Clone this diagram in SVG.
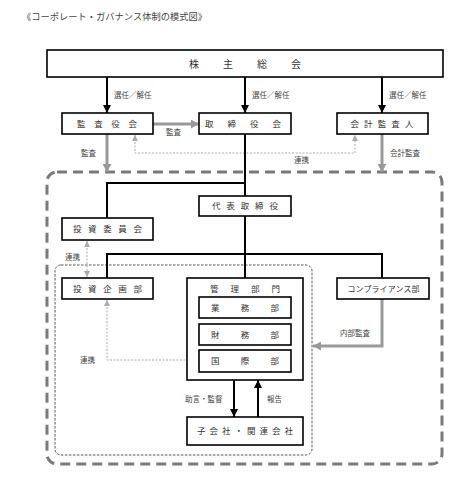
<svg xmlns="http://www.w3.org/2000/svg" width="472" height="484" viewBox="0 0 472 484">
<defs>
<style>
text{font-family:"Noto Sans CJK JP","Noto Sans CJK SC",sans-serif;fill:#333;}
.bl{font-size:8.5px;text-anchor:middle;}
.lb{font-size:7.5px;fill:#444;}
.box{fill:#fff;stroke:#000;stroke-width:1.6;}
.ln{fill:none;stroke:#000;stroke-width:2;}
.ga{fill:none;stroke:#999;stroke-width:3;}
.dt{fill:none;stroke:#aaa;stroke-width:1;stroke-dasharray:2,1.5;}
</style>
<marker id="mb" viewBox="0 0 8 8" refX="8" refY="4" markerWidth="8" markerHeight="8" markerUnits="userSpaceOnUse" orient="auto"><path d="M0,0L8,4L0,8z" fill="#000"/></marker>
<marker id="mg" viewBox="0 0 8 9" refX="8" refY="4.5" markerWidth="8" markerHeight="9" markerUnits="userSpaceOnUse" orient="auto"><path d="M0,0L8,4.5L0,9z" fill="#999"/></marker>
<marker id="md" viewBox="0 0 6 6" refX="6" refY="3" markerWidth="6" markerHeight="6" markerUnits="userSpaceOnUse" orient="auto-start-reverse"><path d="M0,0L6,3L0,6z" fill="#aaa"/></marker>
</defs>
<rect width="472" height="484" fill="#fff"/>
<text x="22" y="20" style="font-size:9px;fill:#444" textLength="185" lengthAdjust="spacingAndGlyphs">《コーポレート・ガバナンス体制の模式図》</text>

<g id="outer-boundary">
<rect x="47" y="172" width="395" height="292" rx="10" fill="none" stroke="#7a7a7a" stroke-width="3" stroke-dasharray="10,6"/>
</g>
<g id="inner-boundary">
<rect x="55" y="265" width="257" height="190" rx="6" fill="none" stroke="#555" stroke-width="1" stroke-dasharray="2.5,1.5"/>
</g>

<g id="connectors">
<path class="ln" d="M107,77V113" marker-end="url(#mb)"/>
<path class="ln" d="M245,77V113" marker-end="url(#mb)"/>
<path class="ln" d="M382,77V113" marker-end="url(#mb)"/>
<path class="ga" d="M153,124H199" marker-end="url(#mg)"/>
<path class="ga" d="M107,134V172" marker-end="url(#mg)"/>
<path class="ga" d="M382,134V172" marker-end="url(#mg)"/>
<path class="dt" d="M135,135V153H355V135" marker-start="url(#md)" marker-end="url(#md)"/>
<path class="ln" d="M245,134V196M245,183H107V218"/>
<path class="ln" d="M245,216V278M107,278V254H382V278"/>
<path class="dt" d="M87,241V277" marker-start="url(#md)" marker-end="url(#md)"/>
<path class="dt" d="M107,300V360H198" marker-start="url(#md)" marker-end="url(#md)"/>
<path class="ga" d="M382,299V346H313" marker-end="url(#mg)"/>
<path class="ln" d="M234,380V417" marker-end="url(#mb)"/>
<path class="ln" d="M258,417V380" marker-end="url(#mb)"/>
<text class="lb" x="114" y="98">選任／解任</text>
<text class="lb" x="252" y="98">選任／解任</text>
<text class="lb" x="389" y="98">選任／解任</text>
<text class="lb" x="166" y="135">監査</text>
<text class="lb" x="81" y="156">監査</text>
<text class="lb" x="294" y="163">連携</text>
<text class="lb" x="390" y="156">会計監査</text>
<text class="lb" x="65" y="260">連携</text>
<text class="lb" x="80" y="363">連携</text>
<text class="lb" x="340" y="336">内部監査</text>
<text class="lb" x="185" y="402">助言・監督</text>
<text class="lb" x="267" y="402">報告</text>
</g>

<g id="shareholders">
<rect class="box" x="47" y="50" width="396" height="27"/>
<text class="bl" x="245" y="67.5" style="font-size:10px" textLength="112">株主総会</text>
</g>
<g id="audit-board">
<rect class="box" x="62" y="113" width="91" height="21"/>
<text class="bl" x="107" y="126.5" textLength="60">監査役会</text>
</g>
<g id="board">
<rect class="box" x="199" y="113" width="92" height="21"/>
<text class="bl" x="243" y="126.5" textLength="76">取締役会</text>
</g>
<g id="auditor">
<rect class="box" x="337" y="113" width="91" height="21"/>
<text class="bl" x="382" y="126.5" textLength="63">会計監査人</text>
</g>
<g id="representative">
<rect class="box" x="199" y="196" width="92" height="20"/>
<text class="bl" x="245" y="209" textLength="66">代表取締役</text>
</g>
<g id="investment-committee">
<rect class="box" x="62" y="218" width="91" height="22"/>
<text class="bl" x="107.5" y="232" textLength="69">投資委員会</text>
</g>
<g id="investment-planning">
<rect class="box" x="62" y="278" width="91" height="21"/>
<text class="bl" x="107.5" y="291.5" textLength="69">投資企画部</text>
</g>
<g id="admin-division">
<rect class="box" x="187" y="278" width="116" height="102"/>
<text class="bl" x="245" y="292" textLength="70">管理部門</text>
</g>
<g id="business-dept">
<rect class="box" x="199" y="297" width="92" height="21"/>
<text class="bl" x="245" y="310.5" textLength="68">業務部</text>
</g>
<g id="finance-dept">
<rect class="box" x="199" y="324" width="92" height="21"/>
<text class="bl" x="245" y="337.5" textLength="68">財務部</text>
</g>
<g id="international-dept">
<rect class="box" x="199" y="350" width="92" height="22"/>
<text class="bl" x="245" y="364" textLength="68">国際部</text>
</g>
<g id="compliance">
<rect class="box" x="337" y="278" width="92" height="21"/>
<text class="bl" x="383.5" y="291.5" style="font-size:8px" textLength="72">コンプライアンス部</text>
</g>
<g id="subsidiaries">
<rect class="box" x="187" y="417" width="116" height="28"/>
<text class="bl" x="245" y="434" textLength="96">子会社・関連会社</text>
</g>
</svg>
